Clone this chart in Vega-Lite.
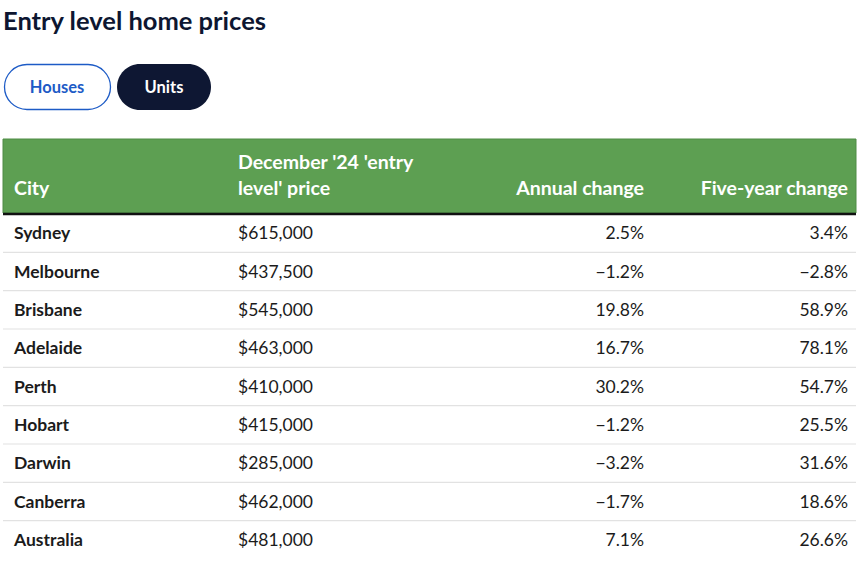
{
  "$schema": "https://vega.github.io/schema/vega-lite/v6.json",
  "width": 868,
  "height": 570,
  "autosize": {"type": "fit", "contains": "padding"},
  "padding": 0,
  "background": "#ffffff",
  "config": {"view": {"stroke": null}, "text": {"font": "Lato", "dy": 1}},
  "resolve": {"scale": {"y": "independent"}},
  "layer": [
    {
      "data": {"values": [{"k": 1}]},
      "layer": [
        {
          "mark": {"type": "text", "text": "Entry level home prices", "align": "left", "baseline": "middle", "fontSize": 25.5, "fontWeight": "bold", "color": "#0d1631"},
          "encoding": {
            "x": {"datum": 3, "type": "quantitative", "scale": {"domain": [0, 868], "nice": false, "zero": false}, "axis": null},
            "y": {"datum": 21, "type": "quantitative", "scale": {"domain": [570, 0], "nice": false, "zero": false}, "axis": null}
          }
        },
        {
          "mark": {"type": "rect", "fill": "#ffffff", "stroke": "#1d5bc6", "strokeWidth": 1.3, "cornerRadius": 23},
          "encoding": {
            "x": {"datum": 4.5, "type": "quantitative"}, "x2": {"datum": 110.5},
            "y": {"datum": 64.5, "type": "quantitative"}, "y2": {"datum": 109.5}
          }
        },
        {
          "mark": {"type": "rect", "fill": "#0e1733", "cornerRadius": 23},
          "encoding": {
            "x": {"datum": 117, "type": "quantitative"}, "x2": {"datum": 211},
            "y": {"datum": 64, "type": "quantitative"}, "y2": {"datum": 110}
          }
        },
        {
          "mark": {"type": "text", "text": "Houses", "align": "center", "baseline": "middle", "fontSize": 16.5, "fontWeight": "bold", "color": "#1d5bc6"},
          "encoding": {"x": {"datum": 57, "type": "quantitative"}, "y": {"datum": 87, "type": "quantitative"}}
        },
        {
          "mark": {"type": "text", "text": "Units", "align": "center", "baseline": "middle", "fontSize": 16.5, "fontWeight": "bold", "color": "#ffffff"},
          "encoding": {"x": {"datum": 164, "type": "quantitative"}, "y": {"datum": 87, "type": "quantitative"}}
        },
        {
          "mark": {"type": "rect", "fill": "#5d9f52", "stroke": "#4e8c44", "strokeWidth": 1},
          "encoding": {
            "x": {"datum": 3, "type": "quantitative"}, "x2": {"datum": 856},
            "y": {"datum": 139, "type": "quantitative"}, "y2": {"datum": 213}
          }
        },
        {
          "mark": {"type": "rule", "color": "#111111", "strokeWidth": 2.5},
          "encoding": {
            "x": {"datum": 3, "type": "quantitative"}, "x2": {"datum": 856},
            "y": {"datum": 214, "type": "quantitative"}
          }
        },
        {
          "mark": {"type": "text", "text": "City", "align": "left", "baseline": "middle", "fontSize": 19.5, "fontWeight": "bold", "color": "#ffffff"},
          "encoding": {"x": {"datum": 14, "type": "quantitative"}, "y": {"datum": 188, "type": "quantitative"}}
        },
        {
          "mark": {"type": "text", "text": "December '24 'entry", "align": "left", "baseline": "middle", "fontSize": 19.5, "fontWeight": "bold", "color": "#ffffff"},
          "encoding": {"x": {"datum": 238, "type": "quantitative"}, "y": {"datum": 162, "type": "quantitative"}}
        },
        {
          "mark": {"type": "text", "text": "level' price", "align": "left", "baseline": "middle", "fontSize": 19.5, "fontWeight": "bold", "color": "#ffffff"},
          "encoding": {"x": {"datum": 238, "type": "quantitative"}, "y": {"datum": 188, "type": "quantitative"}}
        },
        {
          "mark": {"type": "text", "text": "Annual change", "align": "right", "baseline": "middle", "fontSize": 19.5, "fontWeight": "bold", "color": "#ffffff"},
          "encoding": {"x": {"datum": 644, "type": "quantitative"}, "y": {"datum": 188, "type": "quantitative"}}
        },
        {
          "mark": {"type": "text", "text": "Five-year change", "align": "right", "baseline": "middle", "fontSize": 19.5, "fontWeight": "bold", "color": "#ffffff"},
          "encoding": {"x": {"datum": 848, "type": "quantitative"}, "y": {"datum": 188, "type": "quantitative"}}
        }
      ]
    },
    {
      "data": {
        "values": [
          {"City": "Sydney", "Price": 615000, "Annual": 0.025, "FiveYear": 0.034},
          {"City": "Melbourne", "Price": 437500, "Annual": -0.012, "FiveYear": -0.028},
          {"City": "Brisbane", "Price": 545000, "Annual": 0.198, "FiveYear": 0.589},
          {"City": "Adelaide", "Price": 463000, "Annual": 0.167, "FiveYear": 0.781},
          {"City": "Perth", "Price": 410000, "Annual": 0.302, "FiveYear": 0.547},
          {"City": "Hobart", "Price": 415000, "Annual": -0.012, "FiveYear": 0.255},
          {"City": "Darwin", "Price": 285000, "Annual": -0.032, "FiveYear": 0.316},
          {"City": "Canberra", "Price": 462000, "Annual": -0.017, "FiveYear": 0.186},
          {"City": "Australia", "Price": 481000, "Annual": 0.071, "FiveYear": 0.266}
        ]
      },
      "encoding": {
        "y": {"field": "City", "type": "nominal", "sort": null, "scale": {"range": [214, 559], "paddingInner": 0, "paddingOuter": 0}, "axis": null}
      },
      "layer": [
        {
          "transform": [{"filter": "datum.City !== 'Australia'"}],
          "mark": {"type": "rule", "color": "#e2e2e2", "strokeWidth": 1.2},
          "encoding": {
            "y": {"field": "City", "type": "nominal", "sort": null, "bandPosition": 1},
            "x": {"datum": 3, "type": "quantitative", "scale": {"domain": [0, 868], "nice": false, "zero": false}, "axis": null},
            "x2": {"datum": 856}
          }
        },
        {
          "mark": {"type": "text", "align": "left", "baseline": "middle", "fontSize": 17.5, "fontWeight": "bold", "color": "#1b1b1b"},
          "encoding": {
            "x": {"datum": 14, "type": "quantitative"},
            "text": {"field": "City", "type": "nominal"}
          }
        },
        {
          "mark": {"type": "text", "align": "left", "baseline": "middle", "fontSize": 17.5, "color": "#1b1b1b"},
          "encoding": {
            "x": {"datum": 238, "type": "quantitative"},
            "text": {"field": "Price", "type": "quantitative", "format": "$,.0f"}
          }
        },
        {
          "mark": {"type": "text", "align": "right", "baseline": "middle", "fontSize": 17.5, "color": "#1b1b1b"},
          "encoding": {
            "x": {"datum": 644, "type": "quantitative"},
            "text": {"field": "Annual", "type": "quantitative", "format": ".1%"}
          }
        },
        {
          "mark": {"type": "text", "align": "right", "baseline": "middle", "fontSize": 17.5, "color": "#1b1b1b"},
          "encoding": {
            "x": {"datum": 848, "type": "quantitative"},
            "text": {"field": "FiveYear", "type": "quantitative", "format": ".1%"}
          }
        }
      ]
    }
  ]
}
